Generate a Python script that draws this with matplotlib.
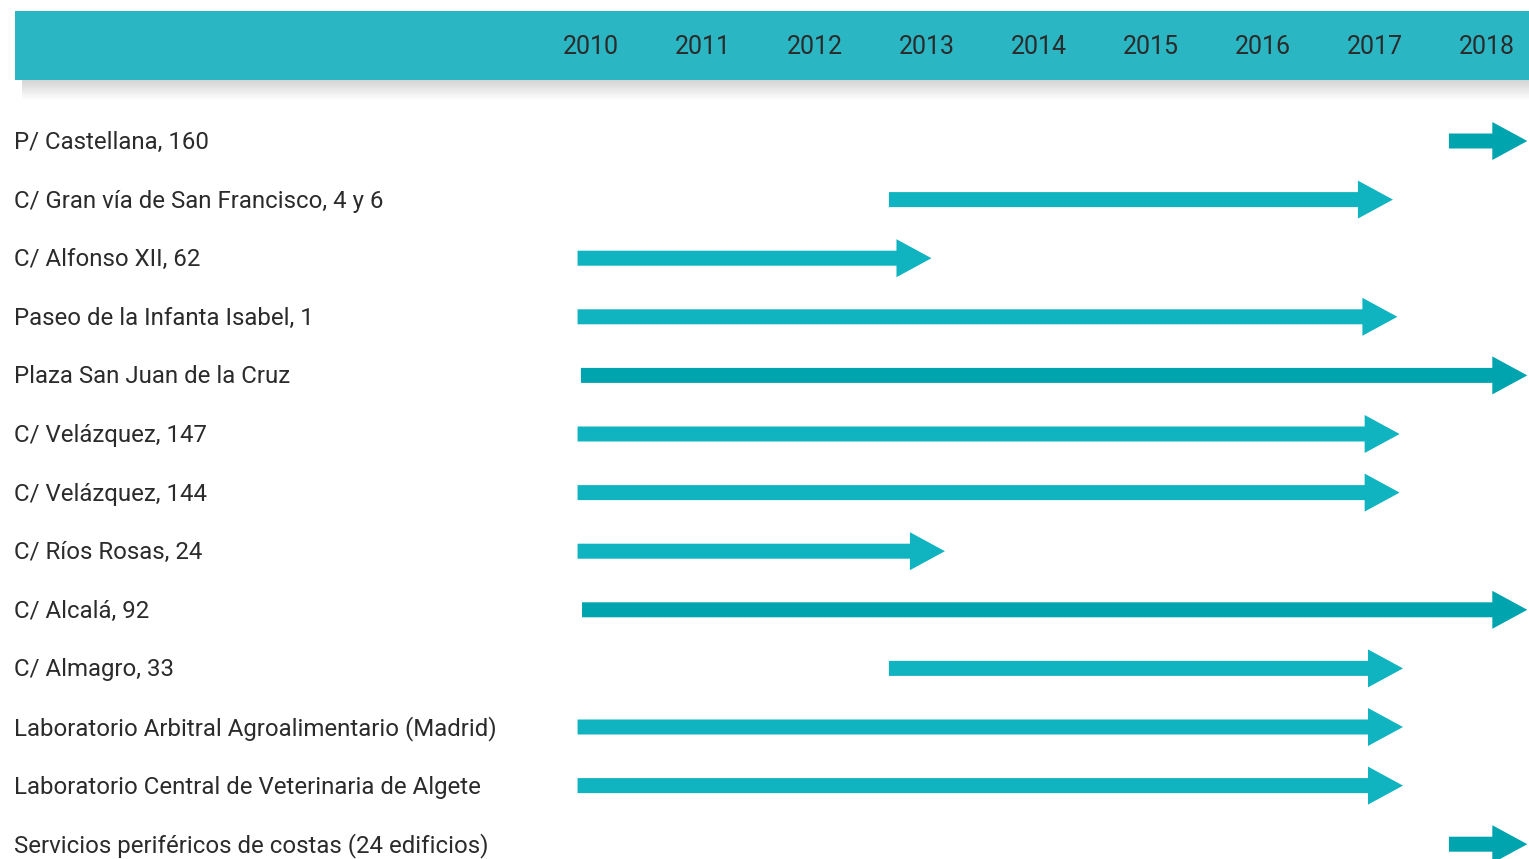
import matplotlib
matplotlib.use("Agg")
import matplotlib.pyplot as plt
from matplotlib.patches import Rectangle

# ---- data ----
labels = [
    "P/ Castellana, 160",
    "C/ Gran vía de San Francisco, 4 y 6",
    "C/ Alfonso XII, 62",
    "Paseo de la Infanta Isabel, 1",
    "Plaza San Juan de la Cruz",
    "C/ Velázquez, 147",
    "C/ Velázquez, 144",
    "C/ Ríos Rosas, 24",
    "C/ Alcalá, 92",
    "C/ Almagro, 33",
    "Laboratorio Arbitral Agroalimentario (Madrid)",
    "Laboratorio Central de Veterinaria de Algete",
    "Servicios periféricos de costas (24 edificios)",
]
start_year = [2017.66, 2012.66, 2009.88, 2009.88, 2009.91, 2009.88, 2009.88,
              2009.88, 2009.92, 2012.66, 2009.88, 2009.88, 2017.66]
end_year = [2018.36, 2017.16, 2013.04, 2017.20, 2018.36, 2017.22, 2017.22,
            2013.16, 2018.36, 2017.25, 2017.25, 2017.25, 2018.36]
dark_rows = [0, 4, 8, 12]
years = [2010, 2011, 2012, 2013, 2014, 2015, 2016, 2017, 2018]

# ---- style ----
W, H = 1529, 859
C_HEAD = "#2BB6C3"
C_DARK = "#00A4AE"
C_LIGHT = "#0FB4C0"
C_TEXT = "#2b2b2b"
FONT = ["Roboto", "DejaVu Sans"]

x0_px, px_per_year = 591, 112.0
y0_px, px_per_row = 141, 58.6

def xd(px):
    return 2010 + (px - x0_px) / px_per_year

def yd(px):
    return (px - y0_px) / px_per_row

fig = plt.figure(figsize=(W / 100, H / 100), dpi=100)
ax = fig.add_axes([0, 0, 1, 1])
ax.set_xlim(xd(0), xd(W))
ax.set_ylim(yd(H), yd(0))
ax.axis("off")

# header band shadow
for k in range(14):
    ax.add_patch(Rectangle((xd(22), yd(80)), xd(W) - xd(22), (k + 1) * 1.4 / px_per_row,
                           facecolor="#000000", alpha=0.011, edgecolor="none", zorder=1))
# header band
ax.add_patch(Rectangle((xd(15), yd(11)), xd(W) - xd(15), yd(80) - yd(11),
                       facecolor=C_HEAD, edgecolor="none", zorder=2))
for yr in years:
    ax.text(yr, yd(47), str(yr), ha="center", va="center", fontsize=18,
            color=C_TEXT, family=FONT, zorder=3)

shaft_w = 15 / px_per_row
head_w = 38 / px_per_row
head_l = 35 / px_per_year

for i, (lab, s, e) in enumerate(zip(labels, start_year, end_year)):
    ax.text(xd(14), i + 1.5 / px_per_row, lab, ha="left", va="center", fontsize=17.3,
            color=C_TEXT, family=FONT, zorder=3)
    col = C_DARK if i in dark_rows else C_LIGHT
    ax.arrow(s, i, e - s, 0, width=shaft_w, head_width=head_w, head_length=head_l,
             length_includes_head=True, facecolor=col, edgecolor="none", zorder=3)

fig.savefig("out.png", dpi=100)
